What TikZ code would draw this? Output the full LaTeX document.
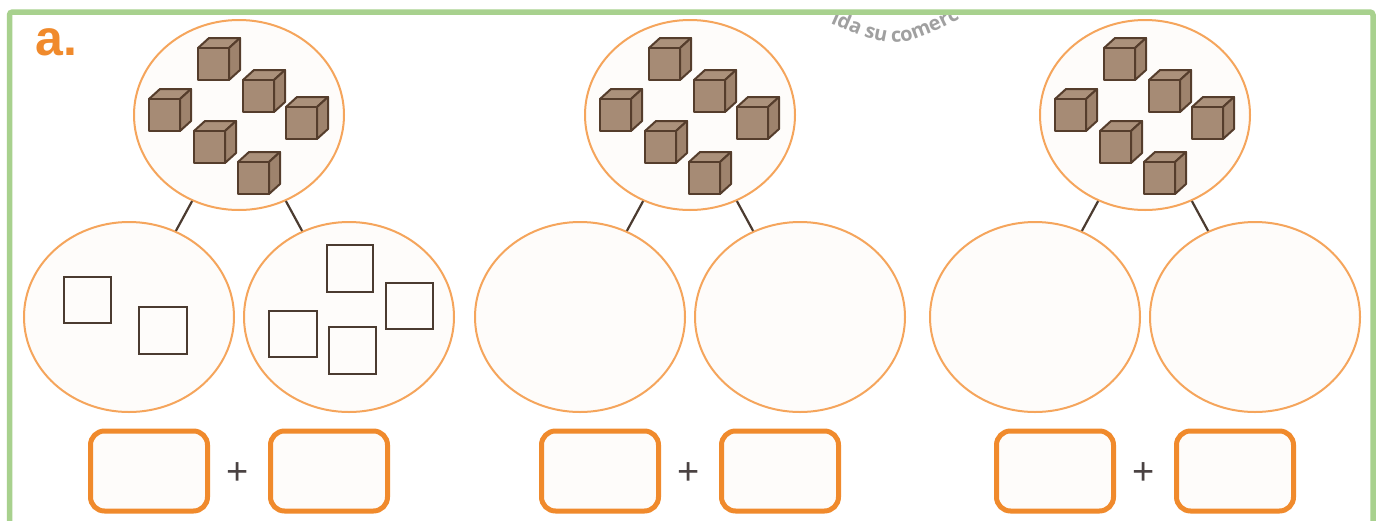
\documentclass[tikz,border=0pt]{standalone}
\usepackage{fontspec}
\usetikzlibrary{shapes.geometric,decorations.text}
\newfontfamily\labfont{Liberation Sans}
\newfontfamily\wmfont{Open Sans}
\definecolor{framegreen}{HTML}{A8D18E}
\definecolor{ellorange}{HTML}{F5A55C}
\definecolor{boxorange}{HTML}{F08A2C}
\definecolor{paper}{HTML}{FEFCFA}
\definecolor{cubefront}{HTML}{A68B75}
\definecolor{cubetop}{HTML}{AB917B}
\definecolor{cubeside}{HTML}{9E836D}
\definecolor{cubeedge}{HTML}{553D2C}
\definecolor{linebrown}{HTML}{4B3B30}
\definecolor{wmgrey}{HTML}{A0A0A0}
\definecolor{plusgrey}{HTML}{4A4242}
\newcommand\mycube[2]{%
  \filldraw[cubestyle, fill=cubetop] (#1,#2) -- ++(11,-10) -- ++(31,0) -- ++(-11,10) -- cycle;
  \filldraw[cubestyle, fill=cubeside] (#1+31,#2) -- ++(11,-10) -- ++(0,32) -- ++(-11,10) -- cycle;
  \filldraw[cubestyle, fill=cubefront] (#1,#2) rectangle ++(31,32);}
\begin{document}
\begin{tikzpicture}[x=1pt,y=-1pt,
  cubestyle/.style={draw=cubeedge, line width=2pt, line join=round},
  bigell/.style={ellipse, draw=ellorange, line width=2pt, fill=paper, inner sep=0pt, minimum width=210pt, minimum height=190pt},
  ansbox/.style={rectangle, rounded corners=14pt, draw=boxorange, line width=5pt, fill=paper, minimum width=117pt, minimum height=80pt, inner sep=0pt},
  sq/.style={draw=linebrown, line width=1.8pt},
  link/.style={draw=linebrown, line width=2.2pt},
  plusmark/.style={text=plusgrey, font=\labfont\fontsize{38}{38}\selectfont, inner sep=0pt}]
\useasboundingbox (0,0) rectangle (1382,520);
\fill[white] (0,0) rectangle (1382,520);
% watermark
\begin{scope}
  \clip (12,15) rectangle (1370,60);
  \path[decorate, decoration={text along path, text align=center, text color=wmgrey,
    text={|\wmfont\bfseries\fontsize{20}{20}\selectfont|ida su comerc}}]
    (815,16.1) .. controls (895,52.2) .. (975,11);
\end{scope}
% frame
\draw[framegreen, line width=5.5pt, rounded corners=3pt] (9.5,530) -- (9.5,12) -- (1373,12) -- (1373,530);
% label
\node[anchor=base west, inner sep=0pt, text=boxorange, font=\labfont\bfseries\fontsize{50}{50}\selectfont] (lbl) at (35,55) {a.};
% groups
\foreach \o/\g in {0/1,451/2,906/3}{
  \node[bigell] (t\g) at (239+\o,115) {};
  \node[bigell] (l\g) at (129+\o,317) {};
  \node[bigell] (r\g) at (349+\o,317) {};
  \draw[link] (t\g) -- (l\g);
  \draw[link] (t\g) -- (r\g);
  \foreach \cx/\cy in {198/48,243/80,149/99,286/107,194/131,238/162}{
    \mycube{\cx+\o}{\cy}
  }
  \node[ansbox] (bl\g) at (149+\o,471) {};
  \node[ansbox] (br\g) at (329+\o,471) {};
  \node[plusmark] (p\g) at (238+\o,474) {+};
}
% squares in the first group
\draw[sq] (64,277) rectangle (111,323);
\draw[sq] (139,307) rectangle (187,354);
\draw[sq] (327,245) rectangle (373,292);
\draw[sq] (386,283) rectangle (433,329);
\draw[sq] (269,311) rectangle (317,357);
\draw[sq] (329,327) rectangle (376,374);
\end{tikzpicture}
\end{document}
